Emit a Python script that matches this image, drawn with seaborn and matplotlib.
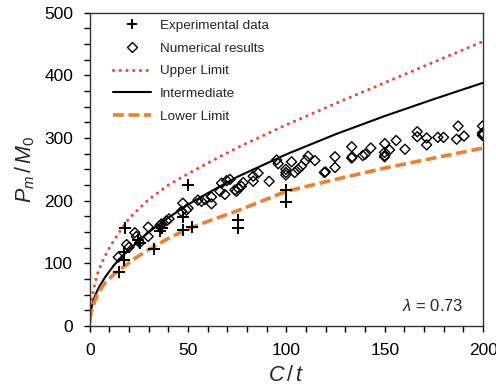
import numpy as np
import pandas as pd
import matplotlib
matplotlib.use("Agg")
import matplotlib.pyplot as plt
from matplotlib.ticker import MultipleLocator
from matplotlib.lines import Line2D
import seaborn as sns

# Experimental measurements
exp_x = [14.8, 17.5, 17.5, 17.8, 24.5, 25.5, 32.5, 35.5, 36.5, 47.5, 47.5, 50.0, 52.0, 75.5, 75.5, 100.0, 100.0]
exp_y = [87, 106, 118, 156, 138, 132, 123, 152, 157, 174, 154, 225, 158, 169, 156, 217, 198]

# Numerical (FE) results
num_x = [14.5, 18.7, 20.0, 22.9, 23.7, 25.4, 29.7, 29.7, 35.6, 36.4, 39.0, 40.3, 46.6, 47.3,
         49.2, 50.0, 55.0, 56.8, 58.5, 61.9, 61.9, 66.2, 67.0, 68.7, 69.6, 71.3, 73.8, 74.6,
         75.4, 77.1, 78.0, 83.1, 83.1, 85.6, 91.2, 95.0, 95.8, 99.7, 99.7, 99.7, 102.6, 104.2,
         105.9, 107.6, 109.8, 111.0, 114.5, 119.3, 119.8, 124.7, 124.7, 133.2, 133.2, 133.4,
         138.8, 140.0, 142.9, 150.0, 149.9, 149.9, 150.0, 152.4, 155.8, 160.3, 166.5, 166.5,
         171.3, 171.3, 177.0, 179.9, 186.5, 187.3, 190.3, 199.7, 199.7, 199.7, 199.7]
num_y = [110, 130, 126, 149, 143, 133, 158, 143, 160, 163, 168, 171, 183, 196,
         185, 188, 201, 199, 202, 206, 195, 215, 228, 210, 232, 234, 217, 215,
         220, 223, 229, 231, 239, 244, 231, 265, 259, 241, 245, 250, 262, 245,
         250, 255, 264, 271, 264, 245, 246, 270, 253, 286, 268, 270,
         272, 274, 284, 291, 277, 270, 272, 281, 296, 282, 310, 302,
         300, 289, 301, 301, 298, 319, 303, 319, 306, 304, 308]

# Design curves
upper_x = [1, 2, 3, 4, 6, 8, 10, 15, 20, 30, 40, 50, 60, 76, 100, 125, 150, 175, 200]
upper_y = [43, 60, 73, 84, 100, 113, 125, 150, 172, 202, 225, 243, 260, 286, 321, 355, 388, 421, 454]

inter_x = [0, 0.5, 1, 2, 3, 5, 8, 12, 15, 20, 30, 40, 50, 60, 75, 100, 125, 150, 175, 200]
inter_y = [0, 22, 31, 42, 51, 64, 79, 96, 107, 122, 150, 173, 194, 212, 238, 274, 306, 335, 362, 388]

lower_x = [0, 1, 2, 4, 7, 12, 17, 22, 30, 40, 50, 60, 76, 100, 125, 150, 175, 200]
lower_y = [10, 25, 35, 51, 66, 82, 94, 106, 122, 140, 155, 167, 185, 215, 234, 252, 268, 284]

UPPER_C = "#f2473a"
LOWER_C = "#f07f2d"
DOT = dict(color=UPPER_C, lw=2.3, linestyle=(0, (0.01, 2.1)), dash_capstyle="round")
DASH = dict(color=LOWER_C, lw=2.6, linestyle=(0, (3.0, 1.3)))

sns.set_style("ticks")
plt.rcParams["font.family"] = ["Liberation Sans", "DejaVu Sans"]
plt.rcParams["mathtext.fontset"] = "custom"
plt.rcParams["mathtext.it"] = "Liberation Sans:italic"
plt.rcParams["mathtext.rm"] = "Liberation Sans"

fig = plt.figure(figsize=(4.96, 3.92), dpi=100)
ax = fig.add_axes([0.181, 0.168, 0.793, 0.800])

sns.lineplot(x=upper_x, y=upper_y, ax=ax, estimator=None, sort=False, **DOT)
sns.lineplot(x=inter_x, y=inter_y, ax=ax, color="black", lw=1.5, estimator=None, sort=False)
sns.lineplot(x=lower_x, y=lower_y, ax=ax, estimator=None, sort=False, **DASH)

sns.scatterplot(x=num_x, y=num_y, ax=ax, marker="D", s=26, facecolor="none",
                edgecolor="black", linewidth=1.0, zorder=3)
sns.scatterplot(x=exp_x, y=exp_y, ax=ax, marker="+", s=70, color="black",
                linewidth=1.4, zorder=4)

ax.set_xlim(0, 200)
ax.set_ylim(0, 500)
ax.xaxis.set_major_locator(MultipleLocator(50))
ax.xaxis.set_minor_locator(MultipleLocator(10))
ax.yaxis.set_major_locator(MultipleLocator(100))
ax.yaxis.set_minor_locator(MultipleLocator(25))
ax.tick_params(which="both", direction="out", length=4, width=1, colors="black",
               top=False, right=False)
ax.tick_params(which="major", labelsize=12.5, pad=8)
for sp in ax.spines.values():
    sp.set_visible(True)
    sp.set_color("#333333")
    sp.set_linewidth(1.0)

ax.set_xlabel(r"$C\,/\,t$", fontsize=15.5, labelpad=5)
ax.set_ylabel(r"$P_m\,/\,M_0$", fontsize=15.5, labelpad=5)

ax.text(0.95, 0.04, r"$\lambda$ = 0.73", transform=ax.transAxes, ha="right",
        va="bottom", fontsize=12)

handles = [
    Line2D([], [], marker="+", color="black", ls="none", markersize=7, mew=1.4),
    Line2D([], [], marker="D", mfc="none", mec="black", ls="none", markersize=4.8, mew=1.0),
    Line2D([], [], **DOT),
    Line2D([], [], color="black", lw=1.5),
    Line2D([], [], **DASH),
]
labels = ["Experimental data", "Numerical results", "Upper Limit", "Intermediate", "Lower Limit"]
ax.legend(handles, labels, loc="upper left", frameon=False, fontsize=9.7,
          handlelength=2.8, handletextpad=0.7, labelspacing=0.765, borderaxespad=0.2,
          bbox_to_anchor=(0.038, 1.004))

fig.savefig("out.png", dpi=100, facecolor="white")
